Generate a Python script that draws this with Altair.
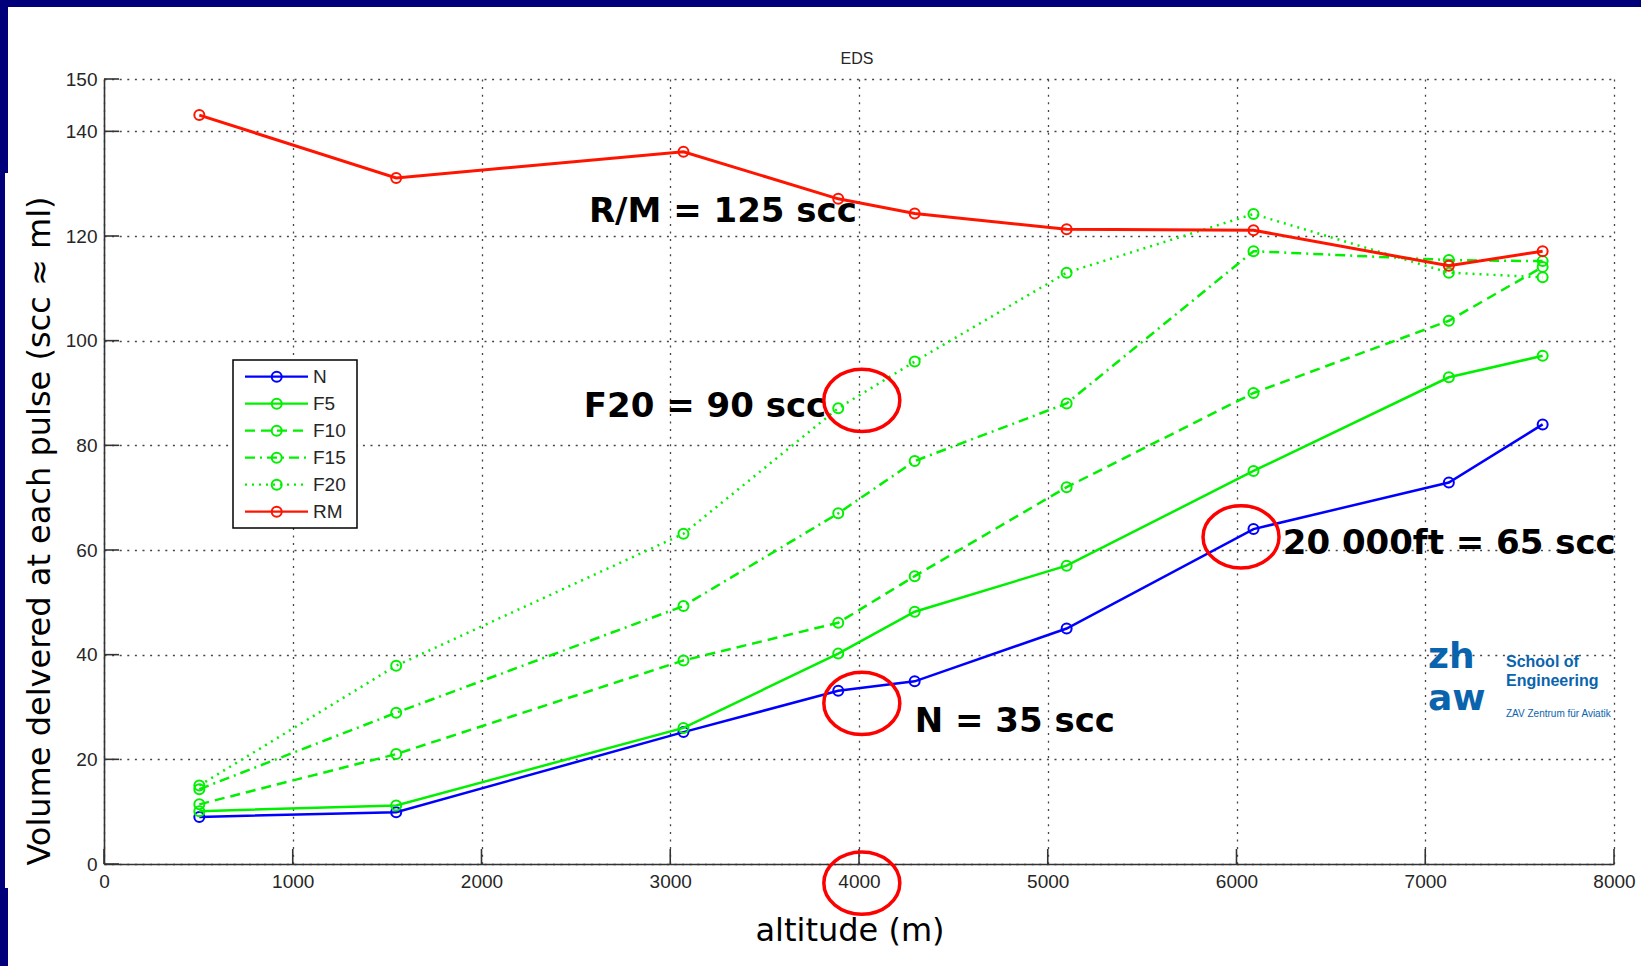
import altair as alt
import pandas as pd

# ---------------- data ----------------
altitude_m = [505, 1548, 3070, 3890, 4295, 5100, 6090, 7125, 7622]
series_names = ["N", "F5", "F10", "F15", "F20", "RM"]
vol_N = [9.0, 9.9, 25.2, 33.1, 34.9, 45.0, 64.0, 72.9, 84.0]
vol_F5 = [10.1, 11.2, 26.0, 40.2, 48.2, 57.0, 75.1, 93.0, 97.1]
vol_F10 = [11.4, 21.0, 38.9, 46.1, 55.0, 72.0, 90.0, 103.8, 114.1]
vol_F15 = [14.3, 28.9, 49.3, 67.0, 77.0, 88.0, 117.1, 115.4, 115.2]
vol_F20 = [15.0, 37.9, 63.1, 87.1, 96.0, 113.0, 124.2, 113.0, 112.1]
vol_RM = [143.1, 131.1, 136.1, 127.1, 124.3, 121.3, 121.1, 114.3, 117.1]
series_values = [vol_N, vol_F5, vol_F10, vol_F15, vol_F20, vol_RM]

x_ticks = [0, 1000, 2000, 3000, 4000, 5000, 6000, 7000, 8000]
y_ticks = [0, 20, 40, 60, 80, 100, 120, 140, 150]

ann_text = ["R/M = 125 scc", "F20 = 90 scc", "20 000ft = 65 scc", "N = 35 scc"]
ann_x = [2569, 2542, 6245, 4295]
ann_y = [122.7, 85.5, 59.3, 25.3]

ell_x = [4015, 4015, 6024, 4015]
ell_y = [88.6, 30.7, 62.5, -3.65]

title_text = "EDS"
x_title = "altitude (m)"
y_title = "Volume delvered at each pulse (scc \u2248 ml)"
logo_mark = ["zh", "aw"]
logo_lines = ["School of", "Engineering"]
logo_sub = "ZAV Zentrum f\u00fcr Aviatik"

# ---------------- layout / style ----------------
PLOT_W, PLOT_H = 1510, 785
NAVY = "#00007a"
GREEN = "#00f000"
style = {
    "N": dict(color="#0000ff", dash=None, width=2.5),
    "F5": dict(color=GREEN, dash=None, width=2.5),
    "F10": dict(color=GREEN, dash=[10, 6], width=2.5),
    "F15": dict(color=GREEN, dash=[10, 5, 2, 5], width=2.5),
    "F20": dict(color=GREEN, dash=[2, 5], width=2.5),
    "RM": dict(color="#ff1400", dash=None, width=3),
}

xs = alt.Scale(domain=[0, 8000], nice=False, zero=False)
ys = alt.Scale(domain=[0, 150], nice=False, zero=False)

common_axis = dict(
    grid=True, ticks=False, title=None, labelFlush=False, labelOverlap=False,
    labelFont="Liberation Sans", labelFontSize=19, labelColor="#262626",
    domainColor="#333333", domainWidth=1.6,
    gridColor="#444444", gridDash=[2, 5.6], gridWidth=1.3, gridOpacity=1,
    format="d",
)
x_axis = alt.Axis(values=x_ticks, labelPadding=8, **common_axis)
y_axis = alt.Axis(values=y_ticks, labelPadding=7, **common_axis)


def X(field):
    return alt.X(field, scale=xs, axis=x_axis)


def Y(field):
    return alt.Y(field, scale=ys, axis=y_axis)


one = pd.DataFrame({"k": [0]})


def deco_rect(x, x2, y, y2, **kw):
    return alt.Chart(one).mark_rect(**kw).encode(
        x=alt.value(x), x2=alt.value(x2), y=alt.value(y), y2=alt.value(y2))


def deco_text(txt, x, y, size, font, weight="normal", color="#000000",
              align="left", baseline="alphabetic", angle=0, line_height=None):
    kw = dict(text=txt, font=font, fontSize=size, fontWeight=weight, color=color,
              align=align, baseline=baseline, angle=angle)
    if line_height:
        kw["lineHeight"] = line_height
    return alt.Chart(one).mark_text(**kw).encode(x=alt.value(x), y=alt.value(y))


layers = []

# data series first (they carry the axes)
for name, vals in zip(series_names, series_values):
    st = style[name]
    d = pd.DataFrame({"altitude": altitude_m, "volume": vals})
    lkw = dict(color=st["color"], strokeWidth=st["width"])
    if st["dash"]:
        lkw["strokeDash"] = st["dash"]
    layers.append(alt.Chart(d).mark_line(**lkw).encode(
        x=X("altitude:Q"), y=Y("volume:Q")))
    layers.append(alt.Chart(d).mark_point(
        shape="circle", filled=False, size=100, strokeWidth=2,
        color=st["color"], opacity=1).encode(
        x=X("altitude:Q"), y=Y("volume:Q")))

# inward tick marks
xt = pd.DataFrame({"v": x_ticks})
yt = pd.DataFrame({"v": y_ticks})
layers.append(alt.Chart(xt).mark_rule(color="#333333", strokeWidth=1.6).encode(
    x=X("v:Q"), y=alt.value(PLOT_H), y2=alt.value(PLOT_H - 15)))
layers.append(alt.Chart(yt).mark_rule(color="#333333", strokeWidth=1.6).encode(
    y=Y("v:Q"), x=alt.value(0), x2=alt.value(15)))

# navy slide border
layers.append(deco_rect(-104, 1537, -79, -72, color=NAVY))
layers.append(deco_rect(-104, -96, -79, 94, color=NAVY))
layers.append(deco_rect(-104, -99, 94, 809, color=NAVY))
layers.append(deco_rect(-104, -96, 809, 887, color=NAVY))

# legend (manual, MATLAB style box)
LEG_Y0, LEG_DY = 297.7, 27
leg = pd.DataFrame({"series": series_names})
leg["ly"] = [(PLOT_H - (LEG_Y0 + i * LEG_DY)) / PLOT_H * 150 for i in range(len(series_names))]
layers.append(deco_rect(129, 253, 281, 449, fill="white", stroke="black", strokeWidth=1.5))
for name in series_names:
    st = style[name]
    ld = leg[leg["series"] == name]
    rkw = dict(color=st["color"], strokeWidth=2.2)
    if st["dash"]:
        rkw["strokeDash"] = st["dash"]
    layers.append(alt.Chart(ld).mark_rule(**rkw).encode(
        x=alt.value(141), x2=alt.value(204), y=Y("ly:Q")))
    layers.append(alt.Chart(ld).mark_point(
        shape="circle", filled=False, size=100, strokeWidth=2,
        color=st["color"], opacity=1).encode(
        x=alt.value(172.7), y=Y("ly:Q")))
layers.append(alt.Chart(leg).mark_text(
    align="left", baseline="middle", font="Liberation Sans", fontSize=19,
    color="#262626").encode(
    x=alt.value(209), y=Y("ly:Q"), text="series:N"))

# annotations
ann = pd.DataFrame({"t": ann_text, "x": ann_x, "y": ann_y})
layers.append(alt.Chart(ann).mark_text(
    align="left", baseline="alphabetic", font="DejaVu Sans", fontWeight="bold",
    fontSize=34, color="black").encode(
    x=X("x:Q"), y=Y("y:Q"), text="t:N"))

# red ellipses
ell = pd.DataFrame({"x": ell_x, "y": ell_y})
ELLIPSE = "M -1 0 A 1 0.82 0 1 0 1 0 A 1 0.82 0 1 0 -1 0 Z"
layers.append(alt.Chart(ell).mark_point(
    shape=ELLIPSE, size=76 * 76, filled=False, stroke="#ff0000", strokeWidth=3.5,
    opacity=1).encode(x=X("x:Q"), y=Y("y:Q")))

# zhaw logo
LOGO = "#0a64ad"
layers.append(deco_text(logo_mark, 1324, 589, 36, "DejaVu Sans", "bold", LOGO, line_height=42))
layers.append(deco_text(logo_lines, 1402, 588, 16, "Liberation Sans", "bold", LOGO, line_height=18.5))
layers.append(deco_text(logo_sub, 1402, 638, 10, "Liberation Sans", "normal", LOGO))

# titles
layers.append(deco_text(title_text, 753, -15, 16, "Liberation Sans", "normal", "#262626", align="center"))
layers.append(deco_text(x_title, 746, 862, 32, "DejaVu Sans", "normal", "black", align="center"))
layers.append(deco_text(y_title, -64, 452, 32, "DejaVu Sans", "normal", "black",
                        align="center", baseline="middle", angle=270))

chart = alt.layer(*layers).properties(
    width=PLOT_W, height=PLOT_H,
    autosize=alt.AutoSizeParams(type="none"),
    padding={"left": 104, "top": 79, "right": 27, "bottom": 102},
    background="white",
).configure_view(stroke=None)

chart.save("out.html", embed_options={"renderer": "svg", "actions": False})
